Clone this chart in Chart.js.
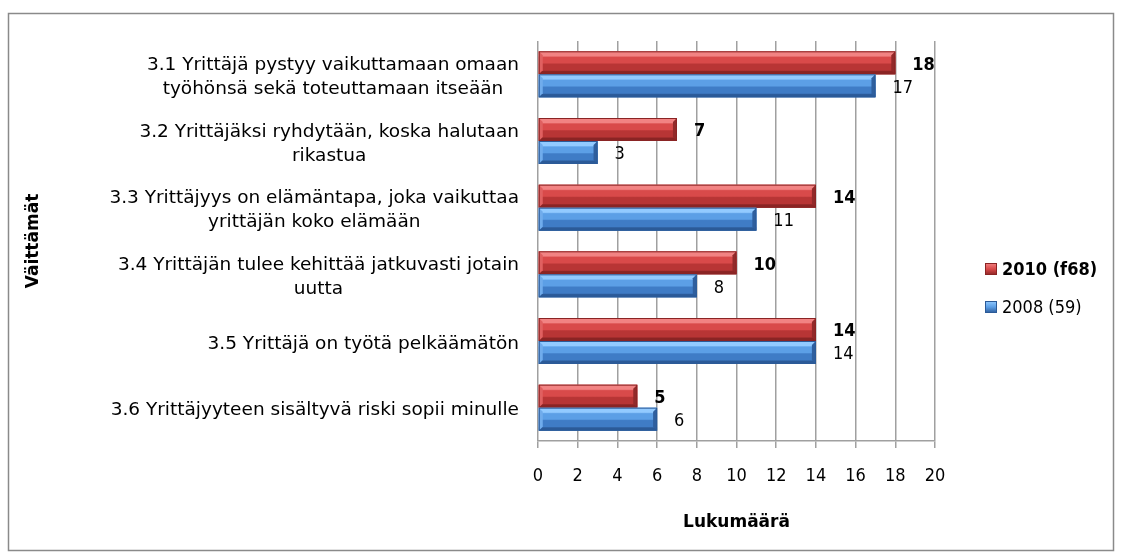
<!DOCTYPE html>
<html><head><meta charset="utf-8">
<script src="https://cdn.jsdelivr.net/npm/chart.js@4.4.0/dist/chart.umd.min.js"></script>
<style>html,body{margin:0;padding:0;background:#fff;}#wrap{width:1123px;height:558px;position:relative;}</style>
</head><body><div id="wrap"><canvas id="c" width="1123" height="558"></canvas></div>
<script>
const categories = [
  ["3.1 Yrittäjä pystyy vaikuttamaan omaan", "työhönsä sekä toteuttamaan itseään"],
  ["3.2 Yrittäjäksi ryhdytään, koska halutaan", "rikastua"],
  ["3.3 Yrittäjyys on elämäntapa, joka vaikuttaa", "yrittäjän koko elämään"],
  ["3.4 Yrittäjän tulee kehittää jatkuvasti jotain", "uutta"],
  ["3.5 Yrittäjä on työtä pelkäämätön"],
  ["3.6 Yrittäjyyteen sisältyvä riski sopii minulle"]
];
const seriesNames = ["2010 (f68)", "2008 (59)"];
const values2010 = [18, 7, 14, 10, 14, 5];
const values2008 = [17, 3, 11, 8, 14, 6];
const xMin = 0, xMax = 20, xStep = 2;
const xAxisTitle = "Lukumäärä";
const yAxisTitle = "Väittämät";

const FONT = '"DejaVu Sans Condensed", "DejaVu Sans", sans-serif';
const FONT_WIDE = '"DejaVu Sans", sans-serif';
const palettes = [
  {base:'#c93d3d', hi:'#f28383', up:'#d94a4a', low:'#b83535', dark:'#8a2424', edge:'#922a2a', left:'#e06060'},
  {base:'#4a88d4', hi:'#92caff', up:'#5c9fe6', low:'#3f7cc6', dark:'#2b5a98', edge:'#2f5f9e', left:'#70acec'}
];
const labelBold = [true, false];

function drawBevelBar(ctx, l, t, r, b, p) {
  if (r - l < 1) return;
  const h = b - t;
  const g = ctx.createLinearGradient(0, t, 0, b);
  g.addColorStop(0, p.hi); g.addColorStop(0.2, p.hi);
  g.addColorStop(0.26, p.up); g.addColorStop(0.5, p.up);
  g.addColorStop(0.56, p.low); g.addColorStop(0.82, p.low);
  g.addColorStop(0.88, p.dark); g.addColorStop(1, p.dark);
  ctx.fillStyle = g; ctx.fillRect(l, t, r - l, h);
  const bv = Math.min(4, (r - l) / 2);
  ctx.fillStyle = p.left;
  ctx.beginPath(); ctx.moveTo(l, t); ctx.lineTo(l + bv, t + bv); ctx.lineTo(l + bv, b - bv); ctx.lineTo(l, b); ctx.closePath(); ctx.fill();
  ctx.fillStyle = p.edge;
  ctx.beginPath(); ctx.moveTo(r, t); ctx.lineTo(r, b); ctx.lineTo(r - bv, b - bv); ctx.lineTo(r - bv, t + bv); ctx.closePath(); ctx.fill();
  ctx.strokeStyle = p.dark; ctx.lineWidth = 1;
  ctx.strokeRect(l + 0.5, t + 0.5, r - l - 1, h - 1);
}

const decorPlugin = {
  id: 'decor',
  afterDatasetsDraw(chart) {
    const ctx = chart.ctx;
    ctx.save();
    chart.data.datasets.forEach((ds, di) => {
      const meta = chart.getDatasetMeta(di);
      meta.data.forEach((el, i) => {
        const l = Math.min(el.base, el.x), r = Math.max(el.base, el.x);
        const t = el.y - el.height / 2, b = el.y + el.height / 2;
        drawBevelBar(ctx, l, t, r, b, palettes[di]);
        ctx.fillStyle = '#000';
        ctx.font = (labelBold[di] ? 'bold ' : '') + '18px ' + FONT;
        ctx.textAlign = 'left'; ctx.textBaseline = 'middle';
        ctx.fillText(String(ds.data[i]), r + 17, el.y + 2);
      });
    });
    ctx.restore();
  },
  afterDraw(chart) {
    const ctx = chart.ctx;
    ctx.save();
    // category labels
    const ys = chart.scales.y;
    ctx.fillStyle = '#000';
    ctx.font = '18.5px ' + FONT_WIDE;
    ctx.textBaseline = 'middle'; ctx.textAlign = 'center';
    const lh = 24;
    categories.forEach((lines, i) => {
      const cy = ys.getPixelForValue(i) + 3;
      const w = Math.max(...lines.map(s => ctx.measureText(s).width));
      const cx = 519 - w / 2;
      const y0 = cy - (lines.length - 1) * lh / 2;
      lines.forEach((s, k) => ctx.fillText(s, cx, y0 + k * lh));
    });
    // legend
    const legY = [269, 307];
    seriesNames.forEach((name, di) => {
      const y = legY[di];
      const p = palettes[di];
      const g = ctx.createLinearGradient(0, y - 6, 0, y + 6);
      g.addColorStop(0, p.hi); g.addColorStop(0.5, p.up); g.addColorStop(1, p.dark);
      ctx.fillStyle = g; ctx.fillRect(985, y - 6, 12, 12);
      ctx.strokeStyle = p.dark; ctx.lineWidth = 1; ctx.strokeRect(985.5, y - 5.5, 11, 11);
      ctx.fillStyle = '#000';
      ctx.font = (labelBold[di] ? 'bold ' : '') + '18px ' + FONT;
      ctx.textAlign = 'left'; ctx.textBaseline = 'middle';
      ctx.fillText(name, 1002, y + 1);
    });
    // outer border
    ctx.strokeStyle = '#8a8a8a'; ctx.lineWidth = 1.5;
    ctx.strokeRect(8.5, 13.5, 1105, 537);
    ctx.restore();
  }
};

new Chart(document.getElementById('c'), {
  type: 'bar',
  data: {
    labels: categories,
    datasets: [
      { label: seriesNames[0], data: values2010, backgroundColor: palettes[0].base, borderWidth: 0 },
      { label: seriesNames[1], data: values2008, backgroundColor: palettes[1].base, borderWidth: 0 }
    ]
  },
  options: {
    indexAxis: 'y',
    responsive: false,
    animation: false,
    devicePixelRatio: 1,
    categoryPercentage: 0.69,
    barPercentage: 1,
    layout: { padding: { top: 41, right: 188, bottom: 20, left: 0 } },
    plugins: { legend: { display: false }, tooltip: { enabled: false } },
    scales: {
      x: {
        min: xMin, max: xMax,
        ticks: { stepSize: xStep, color: '#000', font: { family: FONT, size: 18 }, padding: 18 },
        grid: { color: '#a0a0a0', lineWidth: 1.5, tickLength: 7, drawTicks: true },
        border: { display: true, color: '#a0a0a0', width: 1.5 },
        title: { display: true, text: xAxisTitle, color: '#000', font: { family: FONT_WIDE, size: 17, weight: 'bold' }, padding: { top: 4, bottom: 5 } },
        afterFit(s) { s.height = 97; }
      },
      y: {
        ticks: { display: false },
        grid: { display: false },
        border: { display: false },
        title: { display: true, text: yAxisTitle, color: '#000', font: { family: FONT_WIDE, size: 17, weight: 'bold' }, padding: { top: 23, bottom: 0 } },
        afterFit(s) { s.width = 538; }
      }
    }
  },
  plugins: [decorPlugin]
});
</script>
</body></html>
